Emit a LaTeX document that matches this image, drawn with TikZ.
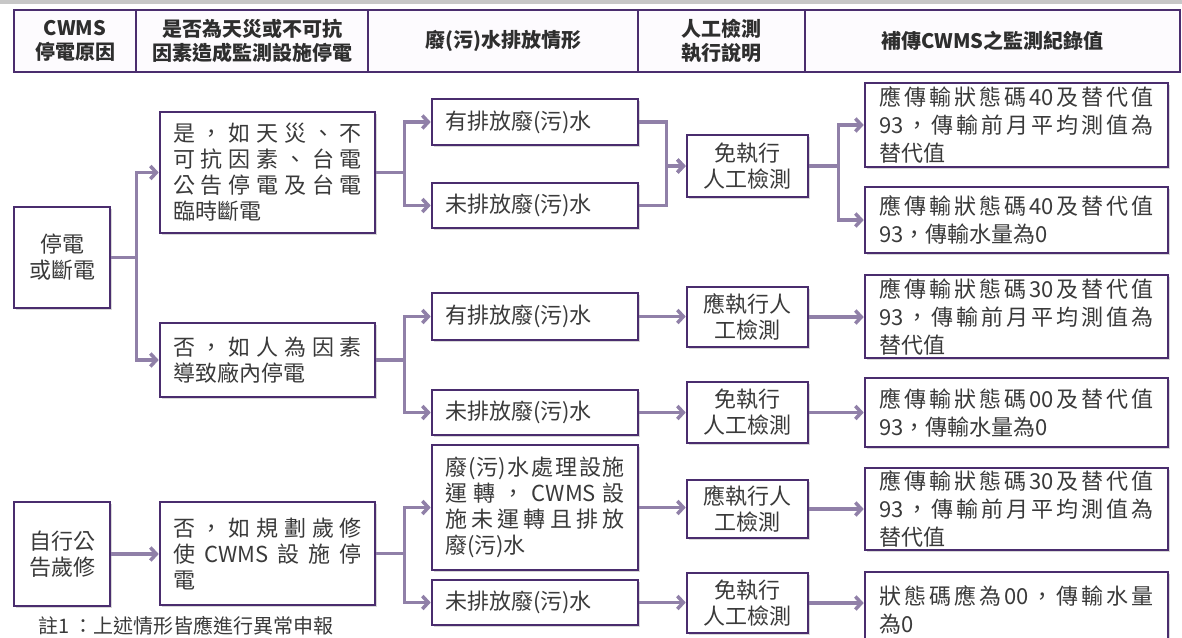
\documentclass[tikz,border=0pt]{standalone}
\usepackage{fontspec}
\setmainfont{Noto Sans CJK TC}
\usetikzlibrary{arrows.meta,shadows,calc}
\definecolor{boxc}{HTML}{4A2D6E}
\definecolor{arrc}{HTML}{9080A8}
\definecolor{txt}{HTML}{3A3A3A}
\definecolor{hdrfill}{HTML}{FDFBFE}
\definecolor{hdrtxt}{HTML}{2E2E2E}
\ExplSyntaxOn
\NewDocumentCommand\jl{mm}{\makebox[#1][s]{\tl_map_inline:nn{#2}{##1\hskip~0pt~plus~1fil}\unskip}}
\ExplSyntaxOff
\tikzset{
  box/.style={draw=boxc, line width=2.6pt, fill=white, inner sep=0pt, text=txt,
    font=\fontsize{22}{26}\selectfont,
    drop shadow={shadow xshift=2pt, shadow yshift=-2pt, opacity=0.25, fill=black!60}},
  lbox/.style={box, align=left, inner xsep=13pt},
  cbox/.style={box, align=center},
  rbox/.style={box, align=left, inner xsep=14.5pt, text width=274pt, minimum width=303pt,
    font=\fontsize{22}{28}\selectfont},
  hdr/.style={draw=boxc, line width=2.2pt, fill=hdrfill, inner sep=0pt, align=center,
    text=hdrtxt, minimum height=62pt, font=\bfseries\fontsize{20}{24}\selectfont},
  arr/.style={draw=arrc, line width=3.5pt, -{Straight Barb[length=6pt,width=13pt]}},
}
\begin{document}
\begin{tikzpicture}[x=1pt,y=-1pt]
\useasboundingbox (0,0) rectangle (1182,637);
\fill[white] (0,0) rectangle (1182,637);
\fill[black!22] (0,0) rectangle (1182,4);

% header
\node[hdr, minimum width=122pt] (h1) at (75,41) {CWMS\\停電原因};
\node[hdr, minimum width=232pt] (h2) at (252,41) {是否為天災或不可抗\\因素造成監測設施停電};
\node[hdr, minimum width=270pt] (h3) at (503,41) {廢(污)水排放情形};
\node[hdr, minimum width=167pt] (h4) at (721.5,41) {人工檢測\\執行說明};
\node[hdr, minimum width=375pt] (h5) at (992.5,41) {補傳CWMS之監測紀錄值};

% column 1
\node[cbox, minimum width=96pt, minimum height=101pt] (ting) at (62,257.5) {停電\\或斷電};
\node[cbox, minimum width=96pt, minimum height=104pt] (zixing) at (62,554) {自行公\\告歲修};

% column 2
\node[lbox, text width=189pt, minimum width=215pt, minimum height=121pt] (shi) at (267.5,172.5)
  {\jl{189pt}{是，如天災、不}\\\jl{189pt}{可抗因素、台電}\\\jl{189pt}{公告停電及台電}\\臨時斷電};
\node[lbox, text width=189pt, minimum width=215pt, minimum height=74pt] (fou1) at (267.5,360)
  {\jl{189pt}{否，如人為因素}\\導致廠內停電};
\node[lbox, text width=189pt, minimum width=215pt, minimum height=103pt] (fou2) at (267.5,553.5)
  {\jl{189pt}{否，如規劃歲修}\\\jl{189pt}{使{CWMS}設施停}\\電};

% column 3
\node[lbox, text width=180pt, minimum width=206pt, minimum height=46pt] (you1) at (535,122) {有排放廢(污)水};
\node[lbox, text width=180pt, minimum width=206pt, minimum height=45pt] (wei1) at (535,205.5) {未排放廢(污)水};
\node[lbox, text width=180pt, minimum width=206pt, minimum height=47pt] (you2) at (535,316.5) {有排放廢(污)水};
\node[lbox, text width=180pt, minimum width=206pt, minimum height=45pt] (wei2) at (535,412.5) {未排放廢(污)水};
\node[lbox, text width=180pt, minimum width=206pt, minimum height=125pt] (fei) at (535,507.5)
  {\jl{180pt}{廢{(污)}水處理設施}\\\jl{180pt}{運轉，{CWMS}設}\\\jl{180pt}{施未運轉且排放}\\廢(污)水};
\node[lbox, text width=180pt, minimum width=206pt, minimum height=45pt] (wei3) at (535,602.5) {未排放廢(污)水};

% column 4
\node[cbox, minimum width=121pt, minimum height=62pt] (mian1) at (747.5,166) {免執行\\人工檢測};
\node[cbox, minimum width=121pt, minimum height=60pt] (ying2) at (747.5,317) {應執行人\\工檢測};
\node[cbox, minimum width=121pt, minimum height=61pt] (mian2) at (747.5,412.5) {免執行\\人工檢測};
\node[cbox, minimum width=121pt, minimum height=58pt] (ying3) at (747.5,509) {應執行人\\工檢測};
\node[cbox, minimum width=121pt, minimum height=60pt] (mian3) at (747.5,603) {免執行\\人工檢測};

% column 5
\node[rbox, minimum height=84pt] (r1) at (1016.5,125)
  {\jl{274pt}{應傳輸狀態碼{40}及替代值}\\\jl{274pt}{{93}，傳輸前月平均測值為}\\替代值};
\node[rbox, minimum height=66pt] (r2) at (1016.5,220)
  {\jl{274pt}{應傳輸狀態碼{40}及替代值}\\93，傳輸水量為0};
\node[rbox, minimum height=83pt] (r3) at (1016.5,316.5)
  {\jl{274pt}{應傳輸狀態碼{30}及替代值}\\\jl{274pt}{{93}，傳輸前月平均測值為}\\替代值};
\node[rbox, minimum height=69pt] (r4) at (1016.5,412.5)
  {\jl{274pt}{應傳輸狀態碼{00}及替代值}\\93，傳輸水量為0};
\node[rbox, minimum height=82pt] (r5) at (1016.5,509)
  {\jl{274pt}{應傳輸狀態碼{30}及替代值}\\\jl{274pt}{{93}，傳輸前月平均測值為}\\替代值};
\node[rbox, minimum height=76pt] (r6) at (1016.5,610)
  {\jl{274pt}{狀態碼應為{00}，傳輸水量}\\為0};

% note
\node[anchor=west, inner sep=0pt, text=txt, font=\fontsize{20}{24}\selectfont] (note) at (38,626) {註1 ：上述情形皆應進行異常申報};

% connectors
\draw[arr] (ting.east) -- ++(25,0) |- (shi.west);
\draw[arr] (ting.east) -- ++(25,0) |- (fou1.west);
\draw[arr] (zixing.east) -- (zixing.east -| fou2.west);
\draw[arr] (shi.east) -- ++(28,0) |- (you1.west);
\draw[arr] (shi.east) -- ++(28,0) |- (wei1.west);
\draw[arr] (fou1.east) -- ++(28,0) |- (you2.west);
\draw[arr] (fou1.east) -- ++(28,0) |- (wei2.west);
\draw[arr] (fou2.east) -- ++(28,0) |- (fei.west);
\draw[arr] (fou2.east) -- ++(28,0) |- (wei3.west);
\draw[arr] (you1.east) -- ++(27,0) |- (mian1.west);
\draw[arr] (wei1.east) -- ++(27,0) |- (mian1.west);
\draw[arr] (you2.east) -- (you2.east -| ying2.west);
\draw[arr] (wei2.east) -- (wei2.east -| mian2.west);
\draw[arr] (fei.east) -- (fei.east -| ying3.west);
\draw[arr] (wei3.east) -- (wei3.east -| mian3.west);
\draw[arr] (mian1.east) -- ++(29,0) |- (r1.west);
\draw[arr] (mian1.east) -- ++(29,0) |- (r2.west);
\draw[arr] (ying2.east) -- (ying2.east -| r3.west);
\draw[arr] (mian2.east) -- (mian2.east -| r4.west);
\draw[arr] (ying3.east) -- (ying3.east -| r5.west);
\draw[arr] (mian3.east) -- (mian3.east -| r6.west);
\end{tikzpicture}
\end{document}
